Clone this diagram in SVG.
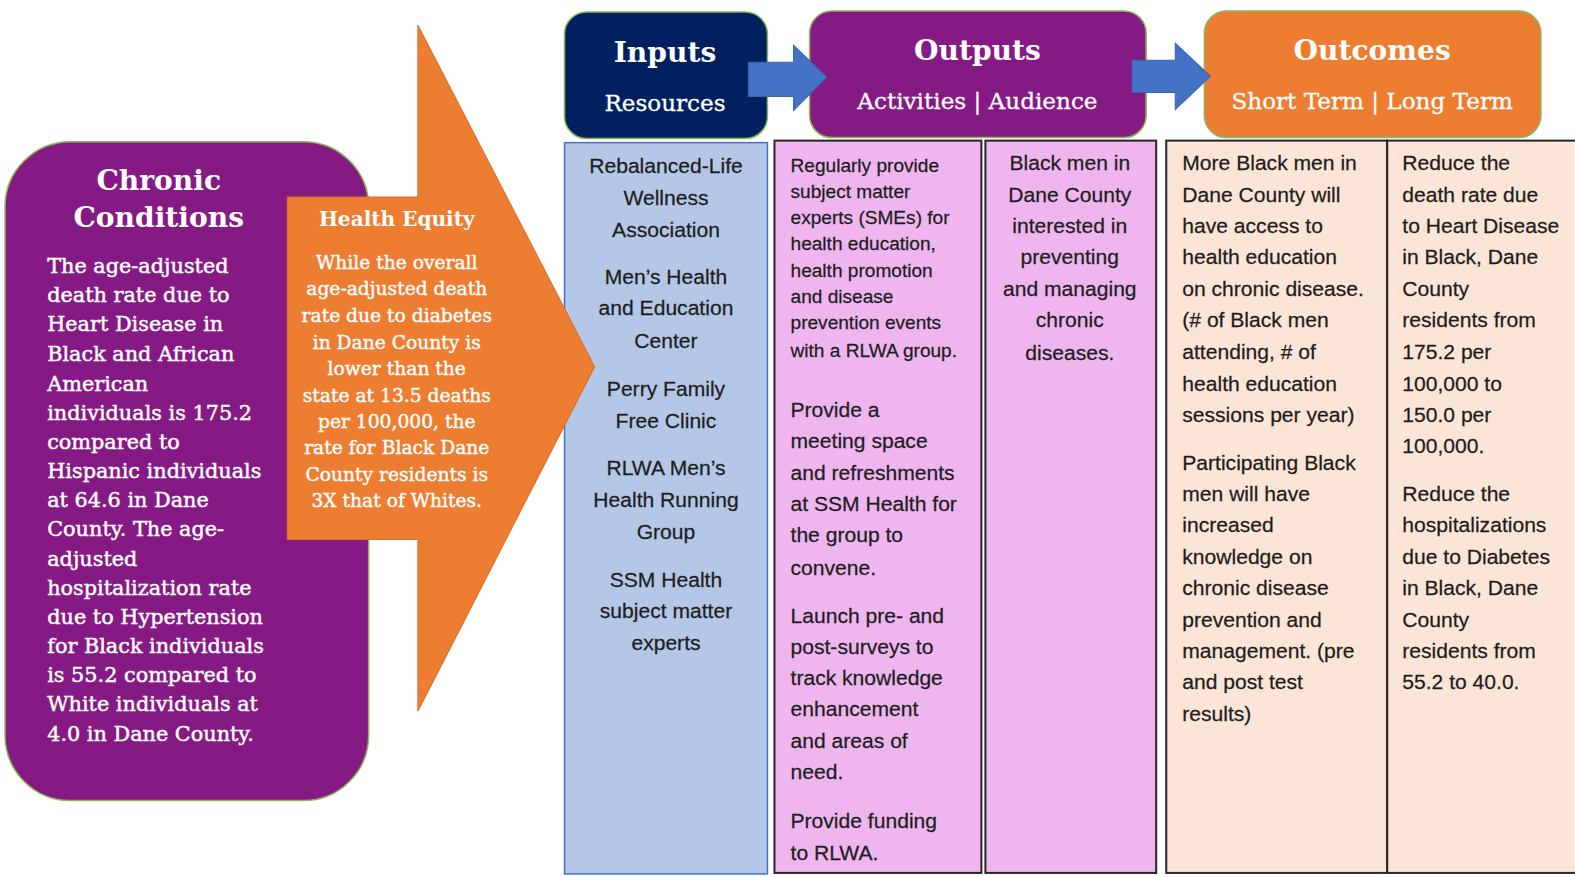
<svg xmlns="http://www.w3.org/2000/svg" width="1575" height="877" viewBox="0 0 1575 877">
<style>
.hdr{stroke:#8DB55A;stroke-width:1.5}
.title{font-family:"DejaVu Serif","Liberation Serif",serif;font-weight:bold;fill:#fff;text-anchor:middle}
.sub{font-family:"DejaVu Serif","Liberation Serif",serif;fill:#fff;text-anchor:middle;font-size:23px;stroke:#fff;stroke-width:0.3}
.body{font-family:"DejaVu Serif","Liberation Serif",serif;fill:#fff;font-size:20.7px;stroke:#fff;stroke-width:0.45}
.eq{font-family:"DejaVu Serif","Liberation Serif",serif;fill:#fff;font-size:18.6px;text-anchor:middle;stroke:#fff;stroke-width:0.4}
.col{font-family:"Liberation Sans",Arial,sans-serif;fill:#1e1e1e;font-size:21px;stroke:#1e1e1e;stroke-width:0.25}
.sm{font-size:19px}
.c{text-anchor:middle}
.colbox{stroke:#262626;stroke-width:2}
</style>
<g transform="scale(1.0045)">
<g id="columns">
<rect id="inputs-col" x="562" y="142" width="202" height="728" fill="#B4C7E7" stroke="#4472C4" stroke-width="1.5"/>
<rect id="activities-col" x="771" y="140" width="206" height="729" fill="#EFB5EF" class="colbox"/>
<rect id="audience-col" x="981" y="140" width="170" height="729" fill="#EFB5EF" class="colbox"/>
<rect id="short-col" x="1161" y="140" width="220" height="729" fill="#FBE5D6" class="colbox"/>
<rect id="long-col" x="1381" y="140" width="200" height="729" fill="#FBE5D6" class="colbox"/>
</g>

<g id="inputs-text" class="col c">
<text x="663" y="172">Rebalanced-Life</text>
<text x="663" y="204">Wellness</text>
<text x="663" y="236">Association</text>
<text x="663" y="283">Men’s Health</text>
<text x="663" y="314">and Education</text>
<text x="663" y="346">Center</text>
<text x="663" y="394">Perry Family</text>
<text x="663" y="426">Free Clinic</text>
<text x="663" y="473">RLWA Men’s</text>
<text x="663" y="505">Health Running</text>
<text x="663" y="537">Group</text>
<text x="663" y="584">SSM Health</text>
<text x="663" y="615">subject matter</text>
<text x="663" y="647">experts</text>
</g>

<g id="activities-text" class="col">
<g class="sm">
<text x="787" y="171">Regularly provide</text>
<text x="787" y="197">subject matter</text>
<text x="787" y="223">experts (SMEs) for</text>
<text x="787" y="249">health education,</text>
<text x="787" y="276">health promotion</text>
<text x="787" y="302">and disease</text>
<text x="787" y="328">prevention events</text>
<text x="787" y="355">with a RLWA group.</text>
</g>
<text x="787" y="415">Provide a</text>
<text x="787" y="446">meeting space</text>
<text x="787" y="478">and refreshments</text>
<text x="787" y="509">at SSM Health for</text>
<text x="787" y="540">the group to</text>
<text x="787" y="572">convene.</text>
<text x="787" y="620">Launch pre- and</text>
<text x="787" y="651">post-surveys to</text>
<text x="787" y="682">track knowledge</text>
<text x="787" y="713">enhancement</text>
<text x="787" y="745">and areas of</text>
<text x="787" y="776">need.</text>
<text x="787" y="824">Provide funding</text>
<text x="787" y="856">to RLWA.</text>
</g>

<g id="audience-text" class="col c">
<text x="1065" y="169">Black men in</text>
<text x="1065" y="201">Dane County</text>
<text x="1065" y="232">interested in</text>
<text x="1065" y="263">preventing</text>
<text x="1065" y="295">and managing</text>
<text x="1065" y="326">chronic</text>
<text x="1065" y="358">diseases.</text>
</g>

<g id="short-text" class="col">
<text x="1177" y="169">More Black men in</text>
<text x="1177" y="201">Dane County will</text>
<text x="1177" y="232">have access to</text>
<text x="1177" y="263">health education</text>
<text x="1177" y="295">on chronic disease.</text>
<text x="1177" y="326">(# of Black men</text>
<text x="1177" y="357">attending, # of</text>
<text x="1177" y="389">health education</text>
<text x="1177" y="420">sessions per year)</text>
<text x="1177" y="468">Participating Black</text>
<text x="1177" y="499">men will have</text>
<text x="1177" y="530">increased</text>
<text x="1177" y="561">knowledge on</text>
<text x="1177" y="592">chronic disease</text>
<text x="1177" y="624">prevention and</text>
<text x="1177" y="655">management. (pre</text>
<text x="1177" y="686">and post test</text>
<text x="1177" y="718">results)</text>
</g>

<g id="long-text" class="col">
<text x="1396" y="169">Reduce the</text>
<text x="1396" y="201">death rate due</text>
<text x="1396" y="232">to Heart Disease</text>
<text x="1396" y="263">in Black, Dane</text>
<text x="1396" y="295">County</text>
<text x="1396" y="326">residents from</text>
<text x="1396" y="357">175.2 per</text>
<text x="1396" y="389">100,000 to</text>
<text x="1396" y="420">150.0 per</text>
<text x="1396" y="451">100,000.</text>
<text x="1396" y="499">Reduce the</text>
<text x="1396" y="530">hospitalizations</text>
<text x="1396" y="561">due to Diabetes</text>
<text x="1396" y="592">in Black, Dane</text>
<text x="1396" y="624">County</text>
<text x="1396" y="655">residents from</text>
<text x="1396" y="686">55.2 to 40.0.</text>
</g>

<g id="inputs-header">
<rect x="562" y="12" width="202" height="126" rx="22" fill="#002060" class="hdr"/>
<text class="title" x="662" y="62" font-size="28">Inputs</text>
<text class="sub" x="662" y="111">Resources</text>
</g>
<g id="outputs-header">
<rect x="806" y="11" width="335" height="126" rx="22" fill="#861A85" class="hdr"/>
<text class="title" x="973" y="60" font-size="28">Outputs</text>
<text class="sub" x="973" y="109">Activities | Audience</text>
</g>
<g id="outcomes-header">
<rect x="1199" y="11" width="335" height="126" rx="22" fill="#ED7D31" class="hdr"/>
<text class="title" x="1366" y="60" font-size="28">Outcomes</text>
<text class="sub" x="1366" y="109">Short Term | Long Term</text>
</g>

<g id="connectors">
<polygon points="745,62 790,62 790,45 823,77 790,110 790,96 745,96" fill="#4472C4" stroke="#3A64B0" stroke-width="1"/>
<polygon points="1127,60 1170,60 1170,43 1205,76 1170,109 1170,92 1127,92" fill="#4472C4" stroke="#3A64B0" stroke-width="1"/>
</g>

<g id="chronic-conditions">
<rect x="5" y="141" width="362" height="656" rx="65" fill="#861A85" stroke="#8DB55A" stroke-width="1.5"/>
<text class="title" x="158" y="189" font-size="28">Chronic</text>
<text class="title" x="158" y="226" font-size="28">Conditions</text>
<g class="body">
<text x="47" y="272">The age-adjusted</text>
<text x="47" y="301">death rate due to</text>
<text x="47" y="330">Heart Disease in</text>
<text x="47" y="359">Black and African</text>
<text x="47" y="389">American</text>
<text x="47" y="418">individuals is 175.2</text>
<text x="47" y="447">compared to</text>
<text x="47" y="476">Hispanic individuals</text>
<text x="47" y="505">at 64.6 in Dane</text>
<text x="47" y="534">County. The age-</text>
<text x="47" y="563">adjusted</text>
<text x="47" y="592">hospitalization rate</text>
<text x="47" y="621">due to Hypertension</text>
<text x="47" y="650">for Black individuals</text>
<text x="47" y="679">is 55.2 compared to</text>
<text x="47" y="708">White individuals at</text>
<text x="47" y="738">4.0 in Dane County.</text>
</g>
</g>

<g id="health-equity">
<polygon points="286,196 416,196 416,25 592,365 416,708 416,537 286,537" fill="#ED7D31" stroke="#D86E28" stroke-width="1"/>
<text class="title" x="395" y="225" font-size="20">Health Equity</text>
<g class="eq">
<text x="395" y="268">While the overall</text>
<text x="395" y="294">age-adjusted death</text>
<text x="395" y="321">rate due to diabetes</text>
<text x="395" y="347">in Dane County is</text>
<text x="395" y="373">lower than the</text>
<text x="395" y="400">state at 13.5 deaths</text>
<text x="395" y="426">per 100,000, the</text>
<text x="395" y="452">rate for Black Dane</text>
<text x="395" y="479">County residents is</text>
<text x="395" y="505">3X that of Whites.</text>
</g>
</g>
</g>
</svg>
